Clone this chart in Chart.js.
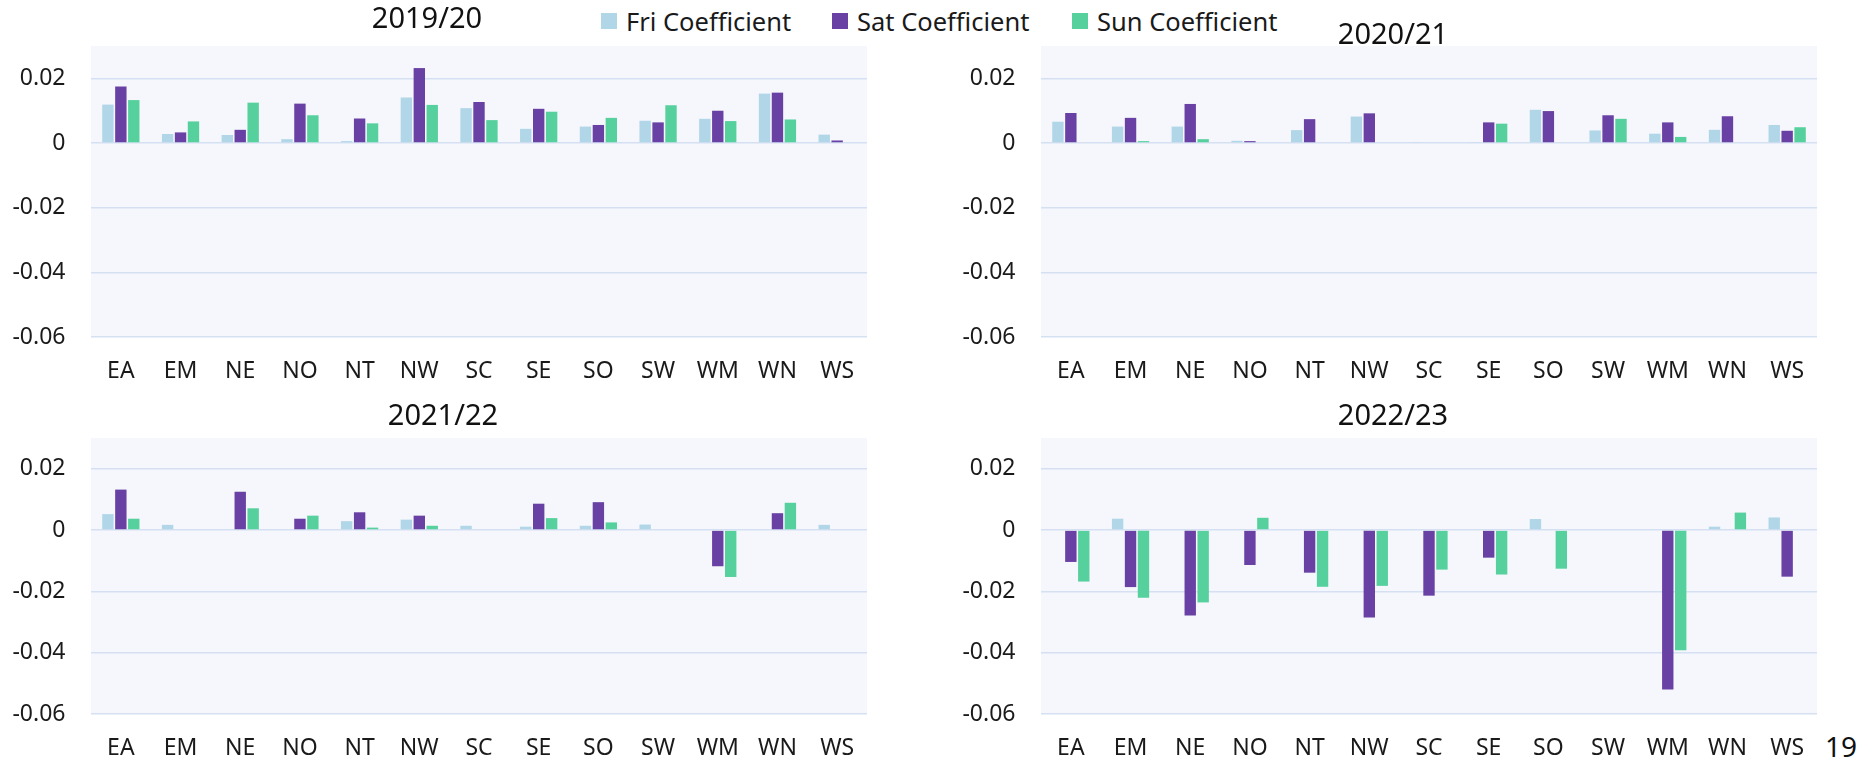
<!DOCTYPE html>
<html>
<head>
<meta charset="utf-8">
<script src="https://cdn.jsdelivr.net/npm/chart.js@4.4.1/dist/chart.umd.min.js"></script>
<style>
  html, body { margin: 0; padding: 0; background: #ffffff; width: 1868px; height: 761px; overflow: hidden; font-family: 'Noto Sans', sans-serif; }
  .panel { position: absolute; }
  .legend-item { position: absolute; top: 4px; height: 34px; display: flex; align-items: center; font-size: 25.5px; color: #1a1a1a; white-space: nowrap; }
  .legend-item .box { width: 16px; height: 16px; margin-right: 9px; }
  #pageNo { position: absolute; left: 1825px; top: 727px; font-size: 28px; color: #111; }
</style>
</head>
<body>
<div id="legend"></div>
<div id="pageNo">19</div>
<script>
'use strict'

var regions = ['EA', 'EM', 'NE', 'NO', 'NT', 'NW', 'SC', 'SE', 'SO', 'SW', 'WM', 'WN', 'WS'];
var seriesNames = ['Fri Coefficient', 'Sat Coefficient', 'Sun Coefficient'];
var seasons = ['2019/20', '2020/21', '2021/22', '2022/23'];
var yTicks = [-0.06, -0.04, -0.02, 0, 0.02];

/* 2019/20 */
var fri1920 = [0.0119, 0.0028, 0.0025, 0.0012, 0.0006, 0.0141, 0.0108, 0.0044, 0.0051, 0.0069, 0.0075, 0.0153, 0.0026];
var sat1920 = [0.0175, 0.0033, 0.0041, 0.0122, 0.0076, 0.0232, 0.0127, 0.0106, 0.0056, 0.0064, 0.0100, 0.0156, 0.0008];
var sun1920 = [0.0133, 0.0067, 0.0125, 0.0086, 0.0061, 0.0118, 0.0071, 0.0097, 0.0078, 0.0117, 0.0068, 0.0073, 0];

/* 2020/21 */
var fri2021 = [0.0066, 0.0051, 0.0051, 0.0007, 0.0040, 0.0082, 0.0003, 0.0002, 0.0103, 0.0039, 0.0029, 0.0041, 0.0056];
var sat2021 = [0.0093, 0.0078, 0.0121, 0.0006, 0.0074, 0.0092, 0, 0.0064, 0.0099, 0.0086, 0.0064, 0.0083, 0.0038];
var sun2021 = [0, 0.0006, 0.0012, 0, 0, 0, 0, 0.0060, 0, 0.0075, 0.0019, 0, 0.0049];

/* 2021/22 */
var fri2122 = [0.0052, 0.0017, 0, 0, 0.0029, 0.0034, 0.0014, 0.0011, 0.0014, 0.0018, 0, 0, 0.0017];
var sat2122 = [0.0132, 0, 0.0125, 0.0037, 0.0058, 0.0047, 0, 0.0086, 0.0091, 0, -0.0118, 0.0055, 0];
var sun2122 = [0.0037, 0, 0.0071, 0.0047, 0.0008, 0.0014, 0, 0.0039, 0.0025, 0, -0.0153, 0.0089, 0];

/* 2022/23 */
var fri2223 = [0, 0.0037, 0, 0, 0, 0, 0, 0, 0.0036, 0, 0, 0.0011, 0.0041];
var sat2223 = [-0.0104, -0.0186, -0.0279, -0.0114, -0.0139, -0.0285, -0.0214, -0.0090, 0, 0, -0.0520, 0, -0.0152];
var sun2223 = [-0.0168, -0.0221, -0.0236, 0.0040, -0.0185, -0.0182, -0.0129, -0.0145, -0.0126, 0, -0.0392, 0.0057, 0];

var seasonData = [
    [fri1920, sat1920, sun1920],
    [fri2021, sat2021, sun2021],
    [fri2122, sat2122, sun2122],
    [fri2223, sat2223, sun2223]
];

var seriesColors = ['#b0d6e8', '#6941a4', '#56d09c'];

/* panel placement on the page */
var panels = [
    { left: -13, top: 0, width: 880, height: 380, yWidth: 104, spacer: 0, titlePad: { top: 7, bottom: 13 }, xHeight: 43, xPad: 12.5 },
    { left: 945, top: 0, width: 896, height: 380, yWidth: 96, spacer: 24, titlePad: { top: 23, bottom: -3 }, xHeight: 43, xPad: 12.5 },
    { left: 0, top: 380, width: 886, height: 381, yWidth: 91, spacer: 19, titlePad: { top: 24, bottom: 8 }, xHeight: 47, xPad: 12.5 },
    { left: 945, top: 380, width: 896, height: 381, yWidth: 96, spacer: 24, titlePad: { top: 24, bottom: 8 }, xHeight: 47, xPad: 12.5 }
];

/* legend across the top */
var legendX = [601, 832, 1072];
var legendEl = document.getElementById('legend');
seriesNames.forEach(function (name, i) {
    var item = document.createElement('div');
    item.className = 'legend-item';
    item.style.left = legendX[i] + 'px';
    item.innerHTML = '<span class="box" style="background:' + seriesColors[i] + '"></span>' + name;
    legendEl.appendChild(item);
});

/* light plot background */
var plotBg = {
    id: 'plotBg',
    beforeDraw: function (chart) {
        var a = chart.chartArea;
        var ctx = chart.ctx;
        ctx.save();
        ctx.fillStyle = '#f5f7fc';
        ctx.fillRect(a.left, a.top, a.right - a.left, a.bottom - a.top);
        ctx.restore();
    }
};

Chart.defaults.font.family = "'Noto Sans', sans-serif";
Chart.defaults.color = '#1a1a1a';

panels.forEach(function (p, idx) {
    var box = document.createElement('div');
    box.className = 'panel';
    box.style.left = p.left + 'px';
    box.style.top = p.top + 'px';
    box.style.width = p.width + 'px';
    box.style.height = p.height + 'px';
    var cv = document.createElement('canvas');
    box.appendChild(cv);
    document.body.appendChild(box);

    new Chart(cv.getContext('2d'), {
        type: 'bar',
        data: {
            labels: regions,
            datasets: seasonData[idx].map(function (vals, i) {
                return {
                    label: seriesNames[i],
                    data: vals,
                    backgroundColor: seriesColors[i],
                    borderWidth: 0,
                    categoryPercentage: 0.65,
                    barPercentage: 0.88
                };
            })
        },
        options: {
            responsive: true,
            maintainAspectRatio: false,
            animation: false,
            layout: { padding: 0 },
            plugins: {
                legend: { display: false },
                tooltip: { enabled: false },
                title: {
                    display: true,
                    text: seasons[idx],
                    color: '#111111',
                    font: { size: 29, weight: 'normal', lineHeight: 0.9 },
                    padding: p.titlePad
                }
            },
            scales: {
                x: {
                    grid: { display: false },
                    border: { display: false },
                    ticks: { color: '#1a1a1a', font: { size: 23 }, padding: p.xPad, maxRotation: 0, autoSkip: false },
                    afterFit: function (s) { s.height = p.xHeight; }
                },
                y: {
                    min: -0.06,
                    max: 0.03,
                    afterBuildTicks: function (s) {
                        s.ticks = yTicks.map(function (v) { return { value: v }; });
                    },
                    grid: { color: '#d5e1f2', lineWidth: 1.6, drawTicks: false },
                    border: { display: false },
                    ticks: {
                        color: '#1a1a1a',
                        font: { size: 23 },
                        padding: 25.5,
                        callback: function (v) { return v === 0 ? '0' : Number(v).toFixed(2); }
                    },
                    afterFit: function (s) { s.width = p.yWidth; }
                },
                spacer: {
                    position: 'right',
                    grid: { display: false },
                    border: { display: false },
                    ticks: { display: false },
                    afterFit: function (s) { s.width = p.spacer; }
                }
            }
        },
        plugins: [plotBg]
    });
});
</script>
</body>
</html>
